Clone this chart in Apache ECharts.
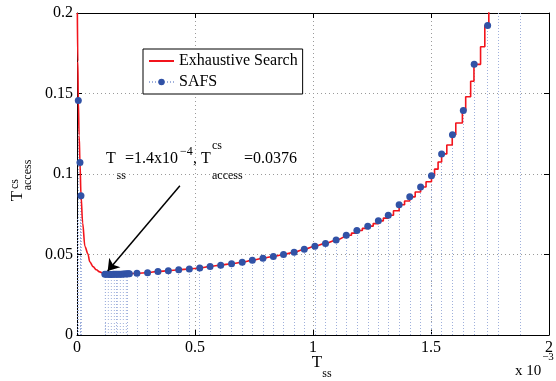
<!DOCTYPE html>
<html><head><meta charset="utf-8">
<script src="https://cdn.jsdelivr.net/npm/echarts@6/dist/echarts.min.js"></script>
<style>html,body{margin:0;padding:0;background:#fff}#c{width:556px;height:381px}</style>
</head><body><div id="c"></div>
<script>
// T_ss values are in units of 1e-3 (axis shows "x 10^-3")
const xTicks = [0, 0.5, 1, 1.5, 2];
const yTicks = [0, 0.05, 0.1, 0.15, 0.2];

// SAFS evaluated points
const safsX = [0.0055, 0.0126, 0.0168,
  0.254, 0.299, 0.343, 0.387, 0.431, 0.476, 0.520, 0.564, 0.609, 0.655, 0.700,
  0.743, 0.788, 0.832, 0.875, 0.920, 0.963, 1.008, 1.053, 1.098, 1.141, 1.186,
  1.232, 1.277, 1.319, 1.365, 1.410, 1.456, 1.502, 1.545, 1.591, 1.637, 1.683, 1.740];
const safsY = [0.1456, 0.1072, 0.0865,
  0.0384, 0.0387, 0.0395, 0.0399, 0.0405, 0.0410, 0.0416, 0.0426, 0.0434, 0.0443, 0.0452,
  0.0465, 0.0477, 0.0488, 0.0500, 0.0514, 0.0533, 0.0552, 0.0569, 0.0590, 0.0620, 0.0649,
  0.0676, 0.0709, 0.0744, 0.0809, 0.0858, 0.0919, 0.0989, 0.1125, 0.1244, 0.1395, 0.1681, 0.1922];
// dense SAFS cluster around the optimum
const clusterX = [0.118, 0.125, 0.132, 0.140, 0.147, 0.154, 0.161, 0.168, 0.175, 0.182, 0.189, 0.196, 0.203, 0.210, 0.217, 0.222];
const clusterY = [0.0378, 0.0377, 0.0377, 0.0376, 0.0376, 0.0377, 0.0377, 0.0377, 0.0378, 0.0378, 0.0378, 0.0379, 0.0379, 0.0380, 0.0380, 0.0381];
const clusterDropX = [0.118, 0.166, 0.214];
const offChartX = [1.785, 1.877];
const hatchLevels = [0.0019, 0.0038, 0.0057, 0.0076, 0.0095, 0.0114, 0.0133, 0.0152, 0.0171, 0.0190,
  0.0209, 0.0228, 0.0247, 0.0266, 0.0285, 0.0304, 0.0323, 0.0342, 0.0361,
  0.0380, 0.0399, 0.0418, 0.0437, 0.0456, 0.0475, 0.0494, 0.0513, 0.0532, 0.0551, 0.0570,
  0.0589, 0.0608, 0.0627, 0.0646, 0.0665, 0.0684, 0.0703, 0.0722];

// Exhaustive search curve (smooth part)
const exhX = [0.0015, 0.0035, 0.0055, 0.009, 0.0126, 0.017, 0.024, 0.0335, 0.046, 0.054, 0.068, 0.082, 0.096, 0.110, 0.125, 0.140, 0.180, 0.220,
  0.254, 0.299, 0.343, 0.387, 0.431, 0.476, 0.520, 0.564, 0.609, 0.655, 0.700, 0.743, 0.788, 0.832, 0.875, 0.920, 0.963, 1.008, 1.053, 1.098, 1.141];
const exhY = [0.2, 0.17, 0.1456, 0.124, 0.1072, 0.0865, 0.0695, 0.055, 0.0505, 0.0455, 0.0425, 0.0405, 0.0392, 0.0385, 0.0378, 0.0376, 0.0377, 0.0380,
  0.0384, 0.0387, 0.0395, 0.0399, 0.0405, 0.0410, 0.0416, 0.0426, 0.0434, 0.0443, 0.0452, 0.0465, 0.0477, 0.0488, 0.0500, 0.0514, 0.0533, 0.0552, 0.0569, 0.0590, 0.0620];
// Exhaustive search curve (staircase part)
const stepX = [1.141, 1.163, 1.186, 1.209, 1.232, 1.255, 1.277, 1.298, 1.319, 1.341, 1.365, 1.388, 1.410, 1.433, 1.456, 1.479, 1.502,
  1.515, 1.530, 1.545, 1.567, 1.590, 1.605, 1.633, 1.647, 1.668, 1.682, 1.710, 1.728, 1.745];
const stepY = [0.0620, 0.0633, 0.0649, 0.0662, 0.0676, 0.0692, 0.0709, 0.0726, 0.0744, 0.0772, 0.0809, 0.0832, 0.0858, 0.0888, 0.0919, 0.0952, 0.0989,
  0.1030, 0.1075, 0.1125, 0.1180, 0.1244, 0.1317, 0.1395, 0.1480, 0.1576, 0.1681, 0.1790, 0.1922, 0.2100];

const arrowFrom = [0.436, 0.0927];
const arrowTo = [0.130, 0.0398];

const FONT = '"Liberation Serif", "Times New Roman", serif';
const RED = '#f2141c';
const BLUE = '#3152a6';
const PALE = '#9fb0dc';

const zip = (a, b) => a.map((v, i) => [v, b[i]]);

const dropLines = [];
safsX.forEach((x, i) => dropLines.push({coords: [[x, 0], [x, safsY[i]]]}));
clusterDropX.forEach(x => dropLines.push({coords: [[x, 0], [x, clusterY[0]]]}));
offChartX.forEach(x => dropLines.push({coords: [[x, 0], [x, yTicks[yTicks.length - 1]]]}));
hatchLevels.forEach(l => {
  dropLines.push({coords: [[0, l], [0.02, l]]});
  if (l < clusterY[0]) dropLines.push({coords: [[clusterX[0], l], [clusterDropX[2], l]]});
});

const axisCommon = {
  type: 'value',
  axisLine: {show: true, onZero: false, lineStyle: {color: '#000', width: 1}},
  axisTick: {show: true, inside: true, length: 5, lineStyle: {color: '#000'}},
};

const txt = (x, y, text, size, align) => ({type: 'text', x: x, y: y,
  style: {text: text, font: size + 'px ' + FONT, fill: '#000', align: align || 'left', verticalAlign: 'middle'}});

const chart = echarts.init(document.getElementById('c'), null, {renderer: 'canvas'});
chart.setOption({
  animation: false,
  backgroundColor: '#fff',
  textStyle: {fontFamily: FONT},
  grid: {left: 77, right: 2, top: 13, bottom: 46, containLabel: false},
  xAxis: [
    Object.assign({}, axisCommon, {min: xTicks[0], max: xTicks[xTicks.length - 1], interval: 0.5, position: 'bottom',
      axisLabel: {color: '#000', fontFamily: FONT, fontSize: 16, margin: 5},
      splitLine: {show: true, lineStyle: {color: '#9a9a9a', type: [1, 3], width: 1}}}),
    Object.assign({}, axisCommon, {min: xTicks[0], max: xTicks[xTicks.length - 1], interval: 0.5, position: 'top',
      axisLabel: {show: false}, splitLine: {show: false}})
  ],
  yAxis: [
    Object.assign({}, axisCommon, {min: yTicks[0], max: yTicks[yTicks.length - 1], interval: 0.05, position: 'left',
      axisLabel: {color: '#000', fontFamily: FONT, fontSize: 16, margin: 4},
      splitLine: {show: true, lineStyle: {color: '#9a9a9a', type: [1, 3], width: 1}}}),
    Object.assign({}, axisCommon, {min: yTicks[0], max: yTicks[yTicks.length - 1], interval: 0.05, position: 'right',
      axisLabel: {show: false}, splitLine: {show: false}})
  ],
  legend: {
    data: [{name: 'Exhaustive Search', itemStyle: {opacity: 0}}, {name: 'SAFS', lineStyle: {opacity: 1}}],
    orient: 'vertical', left: 143, top: 49,
    backgroundColor: '#fff', borderColor: '#000', borderWidth: 1, borderRadius: 0,
    padding: [4, 5, 4, 5], itemGap: 5, itemWidth: 25, itemHeight: 8,
    textStyle: {fontFamily: FONT, fontSize: 16, color: '#000'},
    selectedMode: false
  },
  series: [
    {
      type: 'lines', coordinateSystem: 'cartesian2d', silent: true, z: 1,
      lineStyle: {color: PALE, width: 1, type: [1, 2], opacity: 1},
      data: dropLines
    },
    {
      name: 'Exhaustive Search', type: 'line', data: zip(exhX, exhY), z: 3,
      symbol: 'none', smooth: 0.35, smoothMonotone: 'x',
      lineStyle: {color: RED, width: 1.6}, itemStyle: {color: RED}
    },
    {
      name: 'Exhaustive Search', type: 'line', data: zip(stepX, stepY), z: 3,
      symbol: 'none', step: 'end',
      lineStyle: {color: RED, width: 1.6}, itemStyle: {color: RED}
    },
    {
      name: 'SAFS', type: 'line', data: zip(safsX, safsY).concat(zip(clusterX, clusterY)), z: 4,
      symbol: 'circle', symbolSize: 7, showAllSymbol: true,
      lineStyle: {color: PALE, width: 1, type: [1, 2], opacity: 0},
      itemStyle: {color: BLUE}
    },
    {
      type: 'lines', coordinateSystem: 'cartesian2d', silent: true, z: 5,
      symbol: ['none', 'arrow'], symbolSize: 11,
      lineStyle: {color: '#000', width: 1.5, type: 'solid', opacity: 1},
      data: [{coords: [arrowFrom, arrowTo]}]
    }
  ],
  graphic: [
    // annotation
    txt(106, 159, 'T', 16), txt(116.5, 176, 'ss', 12), txt(125, 159, '=1.4x10', 16),
    txt(180, 152, '\u22124', 12), txt(193, 159, ', T', 16),
    txt(212, 146, 'cs', 12), txt(212, 176, 'access', 12), txt(244, 159, '=0.0376', 16),
    // x axis title
    txt(317, 363, 'T', 17, 'center'), txt(327, 374, 'ss', 12, 'center'),
    // exponent
    txt(528, 371, 'x 10', 15, 'center'), txt(548, 357, '\u22123', 11, 'center'),
    // y axis title (rotated)
    {type: 'group', x: 17.5, y: 196, rotation: Math.PI / 2, children: [
      txt(0, 0, 'T', 17, 'center'), txt(12, -3, 'cs', 12, 'center'), txt(21, 10.5, 'access', 12, 'center')
    ]}
  ]
});
</script>
</body></html>
